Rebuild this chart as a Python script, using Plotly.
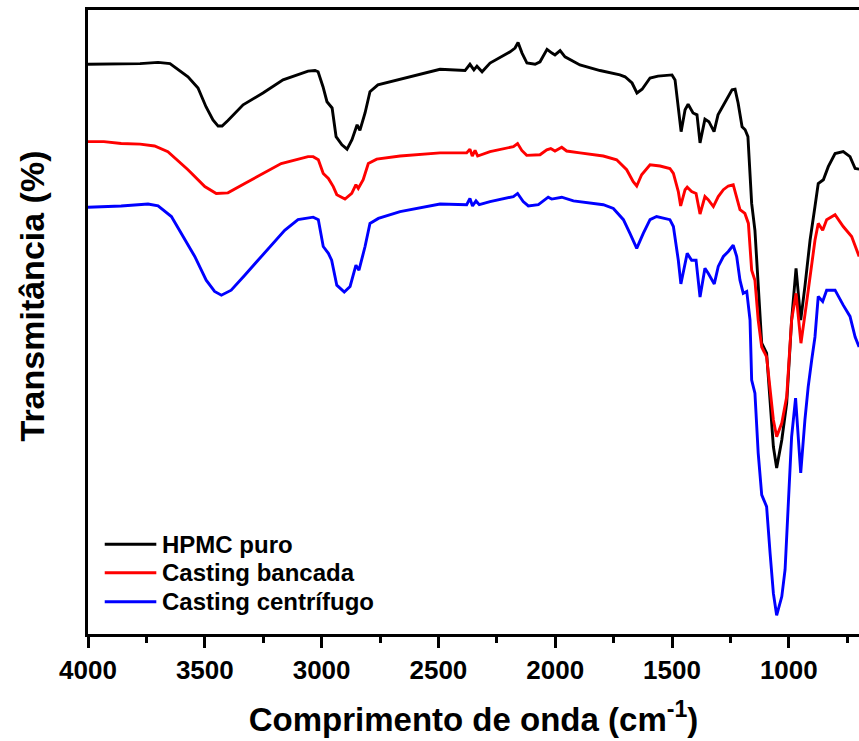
import plotly.graph_objects as go

# FTIR spectra: wavenumber (cm-1) and transmittance (%) per sample
wn_hpmc = [4000, 3863, 3777, 3700, 3649, 3572, 3529, 3495, 3465, 3443, 3426, 3401, 3336, 3251, 3165,
           3058, 3028, 3015, 2994, 2977, 2955, 2938, 2913, 2891, 2870, 2848, 2836, 2814, 2793, 2759,
           2664, 2493, 2386, 2365, 2348, 2335, 2313, 2279, 2193, 2172, 2159, 2142, 2121, 2086, 2065,
           2035, 2014, 2001, 1979, 1958, 1894, 1808, 1723, 1701, 1671, 1650, 1628, 1594, 1560, 1500,
           1487, 1474, 1461, 1444, 1431, 1410, 1393, 1380, 1359, 1342, 1320, 1303, 1273, 1243, 1230,
           1217, 1200, 1187, 1175, 1159, 1145, 1131, 1116, 1095, 1080, 1066, 1052, 1030, 1009, 988,
           969, 949, 931, 909, 888, 874, 852, 831, 802, 767, 738, 716, 699]
t_hpmc = [91.3, 91.4, 91.4, 91.6, 91.4, 89.3, 87.5, 84.5, 82.4, 81.4, 81.4, 82.3, 84.8, 86.7, 88.8,
          90.2, 90.3, 90.1, 87.7, 85.3, 84.3, 79.7, 78.4, 77.7, 79.2, 81.6, 80.7, 83.5, 86.9, 88.0,
          88.9, 90.5, 90.3, 91.3, 90.4, 91.0, 90.1, 91.5, 93.3, 93.9, 94.8, 93.1, 91.5, 91.3, 91.7,
          93.7, 93.1, 92.8, 93.5, 92.5, 91.2, 90.3, 89.6, 89.3, 88.3, 86.7, 87.3, 89.1, 89.4, 89.6,
          88.8, 84.5, 80.5, 84.0, 84.9, 83.5, 83.2, 78.7, 82.5, 82.1, 80.5, 83.2, 85.1, 87.2, 87.3,
          85.1, 81.3, 80.8, 79.7, 69.0, 64.7, 55.7, 46.6, 45.0, 37.0, 30.0, 26.6, 31.1, 37.0, 50.3,
          58.6, 50.3, 55.7, 63.1, 68.5, 72.2, 72.8, 74.9, 77.0, 77.3, 76.5, 74.6, 74.5]

wn_bancada = [4000, 3932, 3858, 3777, 3715, 3658, 3572, 3500, 3451, 3401, 3329, 3258, 3173, 3058, 3036,
              3014, 2993, 2971, 2950, 2935, 2900, 2871, 2853, 2843, 2822, 2800, 2764, 2664, 2493, 2379,
              2365, 2355, 2343, 2332, 2279, 2179, 2161, 2143, 2122, 2065, 2036, 2019, 2001, 1972, 1951,
              1894, 1794, 1737, 1694, 1666, 1651, 1630, 1594, 1551, 1509, 1494, 1473, 1463, 1444, 1435,
              1416, 1397, 1380, 1359, 1345, 1323, 1302, 1280, 1259, 1238, 1223, 1209, 1188, 1173, 1159,
              1145, 1131, 1116, 1095, 1080, 1066, 1052, 1030, 1009, 988, 969, 948, 926, 906, 888,
              874, 855, 838, 802, 767, 731, 699]
t_bancada = [78.9, 78.9, 78.6, 78.5, 78.2, 77.3, 74.4, 71.7, 70.6, 70.7, 72.2, 73.6, 75.4, 76.5, 76.5,
             76.0, 73.8, 73.0, 71.7, 70.4, 69.7, 70.6, 72.0, 71.4, 72.8, 75.4, 76.1, 76.6, 77.1, 77.1,
             77.7, 76.6, 77.5, 76.6, 77.3, 78.1, 78.6, 77.5, 76.7, 76.8, 77.6, 77.8, 77.4, 78.0, 77.4,
             77.1, 76.6, 76.0, 74.4, 72.5, 71.8, 73.6, 75.2, 75.0, 74.6, 73.8, 70.9, 68.6, 71.2, 71.6,
             70.9, 70.6, 67.3, 70.1, 69.6, 68.5, 70.1, 71.2, 71.8, 72.0, 70.1, 68.0, 67.4, 65.8, 58.3,
             56.7, 50.3, 46.0, 44.4, 39.6, 34.3, 31.6, 33.8, 38.0, 50.3, 54.6, 46.6, 52.5, 58.3, 63.1,
             65.8, 64.7, 66.4, 67.2, 65.3, 63.7, 60.5]

wn_centrifugo = [4000, 3858, 3743, 3700, 3643, 3601, 3543, 3494, 3458, 3429, 3387, 3329, 3244, 3158, 3101,
                 3036, 3014, 2993, 2971, 2957, 2935, 2903, 2878, 2853, 2840, 2814, 2793, 2757, 2664, 2493,
                 2379, 2365, 2354, 2339, 2325, 2279, 2179, 2161, 2137, 2115, 2072, 2030, 2015, 1994, 1972,
                 1922, 1794, 1751, 1708, 1680, 1651, 1623, 1594, 1566, 1509, 1494, 1473, 1462, 1444, 1435,
                 1416, 1397, 1380, 1359, 1345, 1319, 1302, 1280, 1259, 1238, 1223, 1209, 1195, 1180, 1166,
                 1159, 1145, 1131, 1116, 1095, 1080, 1066, 1052, 1030, 1016, 1002, 988, 971, 949, 931,
                 917, 902, 888, 874, 855, 838, 802, 767, 738, 716, 699]
t_centrifugo = [68.4, 68.6, 68.9, 68.6, 66.9, 64.2, 60.5, 56.7, 54.9, 54.3, 55.1, 57.5, 61.0, 64.7, 66.4,
                66.8, 66.4, 62.1, 61.0, 59.9, 55.9, 54.8, 55.7, 59.1, 58.3, 62.1, 65.8, 66.6, 67.7, 68.9,
                68.8, 69.8, 68.6, 69.4, 68.8, 69.3, 70.1, 70.6, 69.3, 68.6, 68.8, 70.0, 69.7, 69.9, 70.0,
                69.4, 68.8, 68.2, 66.4, 64.2, 61.8, 64.2, 66.4, 66.9, 66.4, 65.3, 59.9, 56.1, 59.4, 61.0,
                59.9, 59.9, 54.0, 58.6, 57.8, 56.1, 58.9, 60.5, 61.3, 62.3, 60.5, 56.7, 54.6, 54.9, 50.3,
                40.7, 38.6, 29.0, 22.3, 20.4, 12.9, 6.5, 3.0, 6.0, 10.3, 21.0, 31.6, 37.8, 25.8, 34.3,
                39.6, 43.9, 47.6, 54.1, 53.3, 55.1, 55.1, 52.7, 50.9, 47.6, 46.0]

tick_values = [4000, 3500, 3000, 2500, 2000, 1500, 1000]

series = [
    ("HPMC puro", wn_hpmc, t_hpmc, "#000000"),
    ("Casting bancada", wn_bancada, t_bancada, "#FF0000"),
    ("Casting centrífugo", wn_centrifugo, t_centrifugo, "#0000FF"),
]

FONT = "Liberation Sans, Arial, sans-serif"
LW = 2.9

fig = go.Figure()
for name, x, y, color in series:
    fig.add_trace(go.Scatter(x=x, y=y, mode="lines", name=name,
                             line=dict(color=color, width=LW), showlegend=False))

# Hand-placed legend with long line samples
legend_y = [0.1438, 0.0982, 0.0518]
for (name, _, _, color), ly in zip(series, legend_y):
    fig.add_shape(type="line", xref="paper", yref="paper", x0=0.0217, x1=0.0886, y0=ly, y1=ly,
                  line=dict(color=color, width=LW))
    fig.add_annotation(xref="paper", yref="paper", x=0.0935, y=ly, text="<b>%s</b>" % name,
                       showarrow=False, xanchor="left", yanchor="middle",
                       font=dict(family=FONT, size=24, color="#000000"))

# Vertical axis title
fig.add_annotation(xref="paper", yref="paper", x=-0.073, y=0.542, textangle=-90,
                   text="<b>Transmitância (%)</b>", showarrow=False,
                   xanchor="center", yanchor="middle",
                   font=dict(family=FONT, size=34, color="#000000"))

fig.update_layout(
    width=859, height=741,
    margin=dict(l=88, r=0, t=10, b=107),
    paper_bgcolor="white", plot_bgcolor="white",
    font=dict(family=FONT, color="#000000"),
    xaxis=dict(
        range=[4000, 699.5], tickmode="array",
        tickvals=tick_values,
        ticktext=["<b>%d</b>" % v for v in tick_values],
        ticks="outside", ticklen=11, tickwidth=2.6, tickcolor="#000000",
        minor=dict(dtick=250, ticks="outside", ticklen=6, tickwidth=2.6, tickcolor="#000000"),
        showline=True, linewidth=2.8, linecolor="#000000", mirror=True,
        showgrid=False, zeroline=False,
        tickfont=dict(family=FONT, size=26, color="#000000"),
        title=dict(text="<b>Comprimento de onda (cm<sup>-1</sup>)</b>", standoff=24,
                   font=dict(family=FONT, size=33, color="#000000")),
    ),
    yaxis=dict(
        range=[0, 100], showticklabels=False, ticks="",
        showline=True, linewidth=2.8, linecolor="#000000",
        showgrid=False, zeroline=False,
    ),
)

fig.write_html("out.html")
